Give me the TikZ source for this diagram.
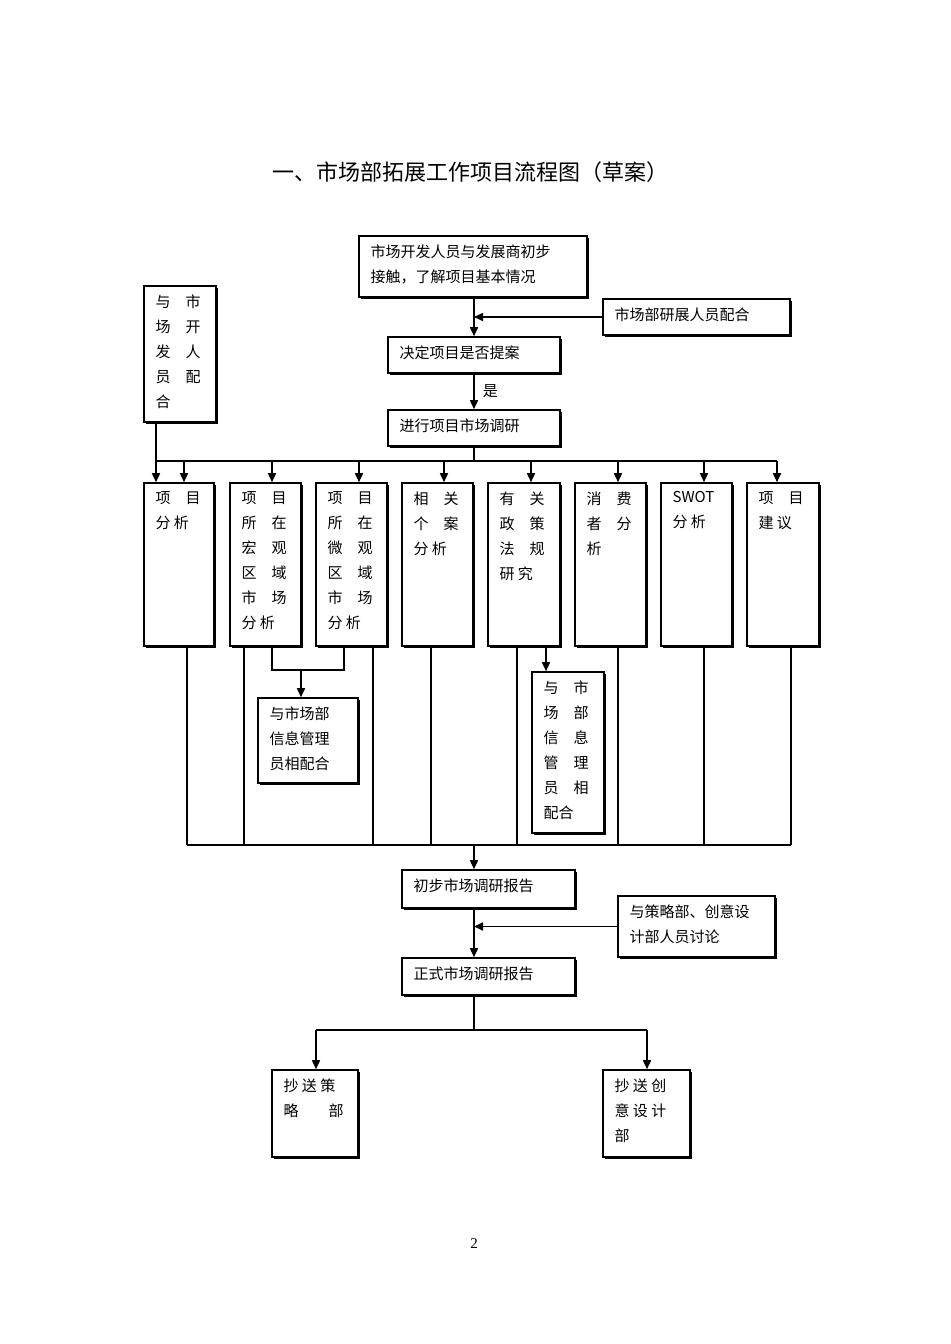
\documentclass[tikz,border=0pt]{standalone}
\usepackage{fontspec}
\setmainfont{Liberation Serif}
\newfontfamily\cjk{Noto Sans CJK SC}
\usetikzlibrary{arrows.meta,shadows,calc}

\tikzset{
  box/.style={draw, thick, fill=white, inner sep=0pt,
    drop shadow={shadow xshift=1.2pt, shadow yshift=-1.2pt, fill=black, opacity=1}},
  txt/.style={font=\cjk\fontsize{7.5}{12.5}\selectfont, align=left, inner sep=0pt},
  arr/.style={thick, -{Triangle[length=4.5pt,width=4pt]}},
  ln/.style={thick}
}
% box: name, x1, y1, x2, y2, text
\newcommand{\bx}[6]{%
  \node[box, minimum width={(#4-#2)*0.5pt}, minimum height={(#5-#3)*0.5pt}]
    (#1) at ({(#2+#4)/2},{(#3+#5)/2}) {};
  \node[txt, anchor=north west] (#1t) at ($(#1.north west)+(12,9)$) {#6};}

\begin{document}
\begin{tikzpicture}[x=0.5pt,y=-0.5pt]
\useasboundingbox (0,0) rectangle (950,1344);
  % title
\node[font=\cjk\fontsize{11}{13}\selectfont] (title) at (470,172) {一、市场部拓展工作项目流程图（草案）};

% top part
\bx{start}{359}{236}{587}{297}{市场开发人员与发展商初步\\接触，了解项目基本情况}
\bx{help}{603}{299}{790}{335}{市场部研展人员配合}
\bx{devs}{144}{286}{216}{422}{与\quad 市\\场\quad 开\\发\quad 人\\员\quad 配\\合}
\bx{decide}{388}{337}{560}{373}{决定项目是否提案}
\bx{survey}{388}{410}{560}{446}{进行项目市场调研}
\draw[arr] (start.south -| 474,0) -- (decide.north -| 474,0);
\draw[arr] (help.west) -- (help.west -| 474,0);
\draw[arr] (decide.south -| 474,0) -- (survey.north -| 474,0) node[midway, right=4pt, txt] (yes) {是};

% research columns
\bx{c1}{144}{483}{214}{646}{项\quad 目\\分\ 析}
\bx{c2}{230}{483}{301}{646}{项\quad 目\\所\quad 在\\宏\quad 观\\区\quad 域\\市\quad 场\\分\ 析}
\bx{c3}{316}{483}{387}{646}{项\quad 目\\所\quad 在\\微\quad 观\\区\quad 域\\市\quad 场\\分\ 析}
\bx{c4}{402}{483}{473}{646}{相\quad 关\\个\quad 案\\分\ 析}
\bx{c5}{488}{483}{560}{646}{有\quad 关\\政\quad 策\\法\quad 规\\研\ 究}
\bx{c6}{575}{483}{646}{646}{消\quad 费\\者\quad 分\\析}
\bx{c7}{661}{483}{732}{646}{SWOT\\分\ 析}
\bx{c8}{747}{483}{819}{646}{项\quad 目\\建\ 议}
\draw[ln] (survey.south -| 474,0) -- (474,461);
\draw[ln] (156,461) -- (777,461);
\draw[arr] (devs.south -| 156,0) -- (c1.north -| 156,0);
\foreach \n/\x in {c1/184, c2/272, c3/359, c4/444, c5/531, c6/618, c7/704, c8/777}
  \draw[arr] (\x,461) -- (\n.north -| \x,0);

% helpers below columns
\bx{info1}{258}{698}{358}{783}{与市场部\\信息管理\\员相配合}
\bx{info2}{532}{672}{604}{833}{与\quad 市\\场\quad 部\\信\quad 息\\管\quad 理\\员\quad 相\\配合}
\draw[ln] (c2.south -| 272,0) -- (272,670) -- (344,670) -- (c3.south -| 344,0);
\draw[arr] (301,670) -- (info1.north -| 301,0);
\draw[arr] (c5.south -| 546,0) -- (info2.north -| 546,0);

% collector
\foreach \n/\x in {c1/187, c2/244, c3/373, c4/431, c5/517, c6/618, c7/704, c8/791}
  \draw[ln] (\n.south -| \x,0) -- (\x,845);
\draw[line width=1.4pt] (187,845) -- (791,845);

% reports
\bx{draft}{402}{870}{575}{908}{初步市场调研报告}
\bx{discuss}{618}{896}{775}{957}{与策略部、创意设\\计部人员讨论}
\bx{final}{402}{958}{575}{995}{正式市场调研报告}
\draw[arr] (474,845) -- (draft.north -| 474,0);
\draw[arr] (draft.south -| 474,0) -- (final.north -| 474,0);
\draw[arr] (discuss.west) -- (discuss.west -| 474,0);

% distribution
\bx{cc1}{272}{1070}{358}{1157}{抄\ 送\ 策\\略\qquad 部}
\bx{cc2}{603}{1070}{690}{1157}{抄\ 送\ 创\\意\ 设\ 计\\部}
\draw[ln] (final.south -| 474,0) -- (474,1030);
\draw[ln] (316,1030) -- (647,1030);
\draw[arr] (316,1030) -- (cc1.north -| 316,0);
\draw[arr] (647,1030) -- (cc2.north -| 647,0);

\node[font=\fontsize{7.5}{9}\selectfont] (page) at (474,1244) {2};
\end{tikzpicture}
\end{document}
